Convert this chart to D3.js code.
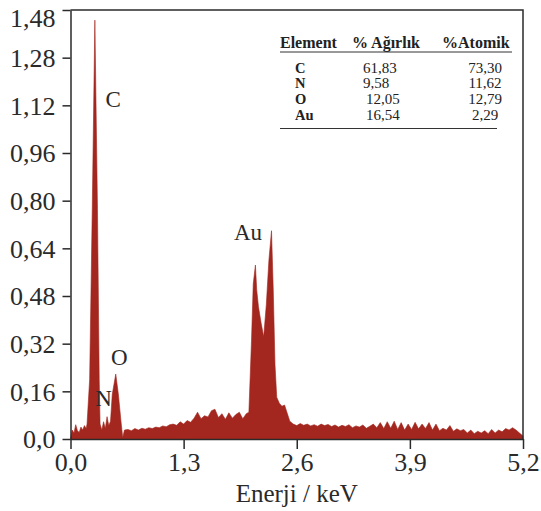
<!DOCTYPE html>
<html><head><meta charset="utf-8">
<script src="https://cdn.jsdelivr.net/npm/d3@7"></script>
<style>body{margin:0;background:#fff;} text{font-family:"Liberation Serif","DejaVu Serif",serif;}</style>
</head><body>
<svg id="c" width="541" height="511"></svg>
<script>
const energy = [0.00,0.02,0.04,0.06,0.08,0.10,0.12,0.14,0.16,0.18,0.19,0.22,0.25,0.28,0.31,0.33,0.34,0.36,0.38,0.40,0.42,0.44,0.46,0.48,0.52,0.55,0.58,0.60,0.62,
0.66,0.70,0.74,0.78,0.82,0.86,0.90,0.94,0.98,1.02,1.06,1.10,1.14,1.18,1.22,1.26,1.30,1.34,1.38,1.42,1.46,1.50,1.54,1.58,1.62,1.66,1.70,1.74,1.78,1.82,1.86,1.90,1.94,1.98,2.02,2.05,
2.08,2.10,2.125,2.14,2.16,2.19,2.22,2.25,2.28,2.31,2.33,2.35,2.37,2.40,2.43,2.46,2.49,2.52,
2.56,2.60,2.64,2.68,2.72,2.76,2.80,2.84,2.88,2.92,2.96,3.00,3.04,3.08,3.12,3.16,3.20,3.24,3.28,3.32,3.36,3.40,3.44,3.48,3.52,3.56,3.60,3.64,3.68,3.72,3.76,3.80,3.84,3.88,3.92,3.96,4.00,4.04,4.08,4.12,4.16,4.20,4.24,4.28,4.32,4.36,4.40,4.44,4.48,4.52,4.56,4.60,4.64,4.68,4.72,4.76,4.80,4.84,4.88,4.92,4.96,5.00,5.04,5.08,5.12,5.16,5.20];
const counts = [0.0,0.03,0.02,0.048,0.028,0.022,0.04,0.03,0.045,0.035,0.05,0.20,0.77,1.406,0.77,0.20,0.05,0.03,0.058,0.035,0.075,0.045,0.06,0.15,0.218,0.15,0.06,0.005,0.03,
0.032,0.028,0.035,0.03,0.036,0.033,0.038,0.035,0.04,0.038,0.044,0.041,0.048,0.05,0.046,0.058,0.05,0.062,0.056,0.07,0.09,0.068,0.078,0.074,0.095,0.10,0.072,0.085,0.066,0.088,0.07,0.082,0.09,0.068,0.085,0.09,
0.33,0.52,0.584,0.50,0.444,0.39,0.343,0.45,0.60,0.699,0.50,0.25,0.14,0.12,0.11,0.114,0.087,0.06,
0.05,0.045,0.052,0.046,0.05,0.044,0.048,0.043,0.05,0.045,0.049,0.042,0.047,0.04,0.046,0.042,0.048,0.038,0.044,0.04,0.047,0.036,0.043,0.05,0.038,0.055,0.035,0.058,0.036,0.06,0.032,0.055,0.03,0.05,0.032,0.056,0.034,0.05,0.035,0.055,0.03,0.05,0.028,0.036,0.03,0.045,0.026,0.034,0.028,0.032,0.02,0.03,0.018,0.026,0.02,0.028,0.018,0.032,0.02,0.03,0.024,0.035,0.03,0.038,0.03,0.02,0.01];
const xTicks = [0, 1.3, 2.6, 3.9, 5.2];
const xTickLabels = ["0,0","1,3","2,6","3,9","5,2"];
const yTicks = [0,0.16,0.32,0.48,0.64,0.80,0.96,1.12,1.28,1.44];
const yTickLabels = ["0,0","0,16","0,32","0,48","0,64","0,80","0,96","1,12","1,28","1,48"];
const peakLabels = [{t:"C",e:0.49,v:1.14},{t:"N",e:0.38,v:0.138},{t:"O",e:0.56,v:0.275},{t:"Au",e:2.04,v:0.695}];
const tableHeader = ["Element","% Ağırlık","%Atomik"];
const tableElements = ["C","N","O","Au"];
const tableWeight = ["61,83","9,58","12,05","16,54"];
const tableAtomic = ["73,30","11,62","12,79","2,29"];

const svg = d3.select("#c");
const L=70.5, R=523, T=10, B=439;
const x = d3.scaleLinear().domain([0,5.2]).range([L,R]);
const y = d3.scaleLinear().domain([0,1.44]).range([B,T]);
const col = "#a3261f", ink="#2a2a2a";

const pts = energy.map((e,i)=>[e,counts[i]]);
svg.append("path").datum(pts)
  .attr("d", d3.area().x(d=>x(d[0])).y0(y(0)+0.5).y1(d=>y(d[1])))
  .attr("fill", col).attr("stroke", col).attr("stroke-width",0.6);

// frame
svg.append("path").attr("d",`M${L},${T}H${R}V${B}`).attr("fill","none").attr("stroke",ink).attr("stroke-width",1.5);

const xa = svg.append("g").attr("transform",`translate(0,${B})`)
  .call(d3.axisBottom(x).tickValues(xTicks).tickFormat((d,i)=>xTickLabels[i]).tickSize(10).tickSizeOuter(0));
const ya = svg.append("g").attr("transform",`translate(${L},0)`)
  .call(d3.axisLeft(y).tickValues(yTicks).tickFormat((d,i)=>yTickLabels[i]).tickSize(8).tickSizeOuter(0));
[xa,ya].forEach(a=>{
  a.select(".domain").attr("stroke",ink).attr("stroke-width",1.5);
  a.selectAll(".tick line").attr("stroke",ink).attr("stroke-width",1.5);
  a.selectAll(".tick text").attr("fill",ink).style("font-size","26px").style("font-family","'Liberation Serif',serif");
});
xa.selectAll(".tick text").attr("y",14);
ya.selectAll(".tick text").attr("x",-15).attr("dy","0.34em");
ya.selectAll(".tick text").filter((d,i)=>i===yTicks.length-1).attr("dy","0.62em");

svg.append("text").attr("x",(L+R)/2).attr("y",502).attr("text-anchor","middle")
  .attr("fill",ink).style("font-size","25px").text("Enerji / keV");

svg.selectAll(".pl").data(peakLabels).join("text")
  .attr("x",d=>x(d.e)).attr("y",d=>y(d.v)).attr("text-anchor","middle").attr("dy","0.35em")
  .attr("fill",ink).style("font-size","23px").text(d=>d.t);

// table
const tg = svg.append("g").attr("fill","#222");
const hx=[280,352,442];
tg.selectAll(".h").data(tableHeader).join("text").attr("x",(d,i)=>hx[i]).attr("y",48)
  .style("font-size","16px").style("font-weight","bold").text(d=>d);
svg.append("line").attr("x1",280).attr("x2",512).attr("y1",52).attr("y2",52).attr("stroke","#333").attr("stroke-width",1);
const ry=[72.5,88,103.5,119.5];
tg.selectAll(".e").data(tableElements).join("text").attr("x",295).attr("y",(d,i)=>ry[i])
  .style("font-size","14.5px").style("font-weight","bold").text(d=>d);
tg.selectAll(".w").data(tableWeight).join("text").attr("x",(d,i)=>i>=2?366:363).attr("y",(d,i)=>ry[i])
  .style("font-size","15px").text(d=>d);
tg.selectAll(".a").data(tableAtomic).join("text").attr("x",485).attr("y",(d,i)=>ry[i]).attr("text-anchor","middle")
  .style("font-size","15px").text(d=>d);
svg.append("line").attr("x1",280).attr("x2",497).attr("y1",128.5).attr("y2",128.5).attr("stroke","#333").attr("stroke-width",1);
</script>
</body></html>
